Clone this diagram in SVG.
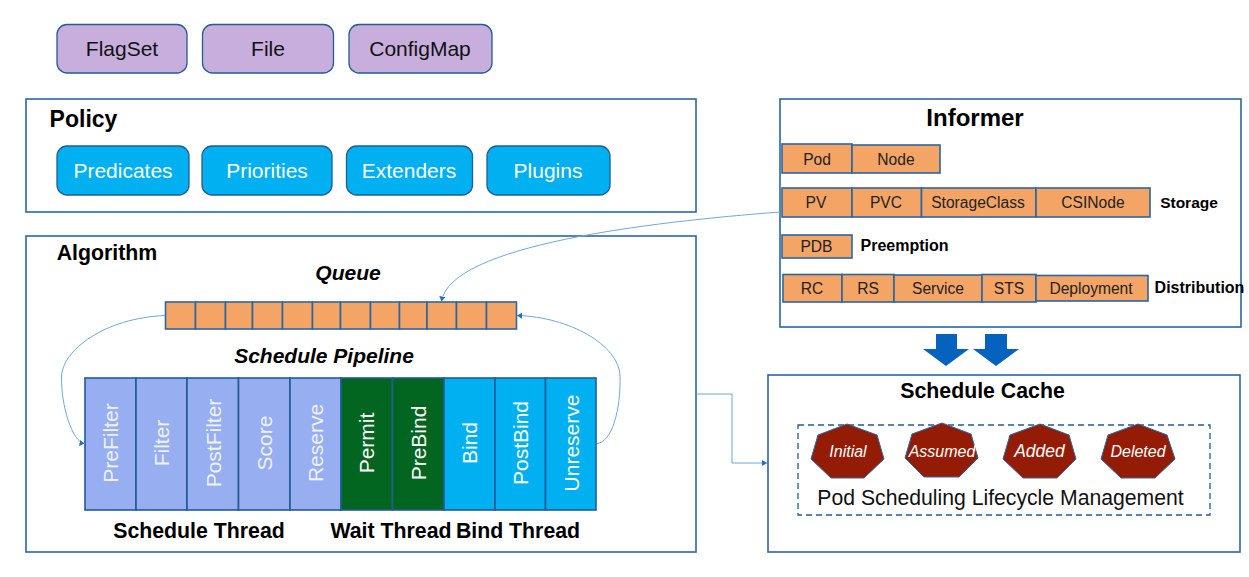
<svg xmlns="http://www.w3.org/2000/svg" width="1249" height="577" viewBox="0 0 1249 577">
<style>
text{font-family:"Liberation Sans",Arial,sans-serif;text-anchor:middle}
.panel{fill:#fff;stroke:#2a66a3;stroke-width:1.6}
.round{stroke:#1f5c99;stroke-width:1.3}
.purple{fill:#c8aedd}.cyan{fill:#00b0f0}
.cell{fill:#f4a566;stroke:#2a66a3;stroke-width:1.6}
.seg{stroke:#1f5c99;stroke-width:1.6}
.peri{fill:#97aef0}.green{fill:#036620}.sky{fill:#00b0f0}
.hept{fill:#951c04;stroke:#2a66a3;stroke-width:1}
.blk{fill:#0563bd}
.lbl{font-size:21px;fill:#111}
.wl{font-size:21px;fill:#fff}
.vt{font-size:21px;fill:#fff}
.vp{fill:#eef2fd}
.t20{font-size:21.300px;font-weight:bold;fill:#000}
.ti{font-size:21px;font-weight:bold;font-style:italic;fill:#000}
.cl{font-size:15.600px;fill:#222}
.sd{font-size:16px;font-weight:bold;fill:#000}
.hl{font-size:16px;font-style:italic;fill:#fff}
.conn{fill:none;stroke:#6ea8dc;stroke-width:1}
</style>
<defs>
<marker id="ah" markerUnits="userSpaceOnUse" markerWidth="6" markerHeight="6" refX="5" refY="3" orient="auto"><path d="M0 0L5 3L0 6z" fill="#1f6fc0"/></marker>
</defs>

<g id="flagset"><rect class="round purple" x="57" y="24.500" width="130" height="48.500" rx="10"/><text class="lbl" x="122" y="56">FlagSet</text></g>
<g id="file"><rect class="round purple" x="202.500" y="24.500" width="131" height="48.500" rx="10"/><text class="lbl" x="268" y="56">File</text></g>
<g id="configmap"><rect class="round purple" x="349" y="24.500" width="143" height="48.500" rx="10"/><text class="lbl" x="420" y="56">ConfigMap</text></g>

<g id="policy">
<rect class="panel" x="26" y="99" width="670" height="113"/>
<text x="83.500" y="127" style="font-size:23px;font-weight:bold">Policy</text>
<g id="predicates"><rect class="round cyan" x="57" y="146" width="132" height="49" rx="10"/><text class="wl" x="123" y="178">Predicates</text></g>
<g id="priorities"><rect class="round cyan" x="202" y="146" width="130" height="49" rx="10"/><text class="wl" x="267" y="178">Priorities</text></g>
<g id="extenders"><rect class="round cyan" x="346.500" y="146" width="126" height="49" rx="10"/><text class="wl" x="409" y="178">Extenders</text></g>
<g id="plugins"><rect class="round cyan" x="487" y="146" width="123" height="49" rx="10"/><text class="wl" x="548" y="178">Plugins</text></g>
</g>

<g id="algorithm">
<rect class="panel" x="26" y="236" width="670" height="316"/>
<text class="t20" x="107" y="260">Algorithm</text>
<text class="ti" x="348" y="280">Queue</text>
<text class="ti" x="324" y="363">Schedule Pipeline</text>
<text class="t20" x="199" y="538">Schedule Thread</text>
<text class="t20" x="391" y="538">Wait Thread</text>
<text class="t20" x="518" y="538">Bind Thread</text>
</g>

<g id="queue">
<rect class="cell" x="165.500" y="302" width="30" height="27"/>
<rect class="cell" x="195.500" y="302" width="30" height="27"/>
<rect class="cell" x="225.500" y="302" width="27" height="27"/>
<rect class="cell" x="252.500" y="302" width="30" height="27"/>
<rect class="cell" x="282.500" y="302" width="30" height="27"/>
<rect class="cell" x="312.500" y="302" width="28" height="27"/>
<rect class="cell" x="340.500" y="302" width="30" height="27"/>
<rect class="cell" x="370.500" y="302" width="29" height="27"/>
<rect class="cell" x="399.500" y="302" width="27.500" height="27"/>
<rect class="cell" x="427" y="302" width="29.500" height="27"/>
<rect class="cell" x="456.500" y="302" width="30" height="27"/>
<rect class="cell" x="486.500" y="302" width="30" height="27"/>
</g>

<g id="pipeline">
<g id="prefilter"><rect class="seg peri" x="85" y="378" width="51" height="132"/><text class="vt vp" transform="translate(118 443) rotate(-90)">PreFilter</text></g>
<g id="filter"><rect class="seg peri" x="136" y="378" width="51" height="132"/><text class="vt vp" transform="translate(169 443) rotate(-90)">Filter</text></g>
<g id="postfilter"><rect class="seg peri" x="187" y="378" width="51.500" height="132"/><text class="vt vp" transform="translate(220.500 443) rotate(-90)">PostFilter</text></g>
<g id="score"><rect class="seg peri" x="238.500" y="378" width="51.500" height="132"/><text class="vt vp" transform="translate(272 443) rotate(-90)">Score</text></g>
<g id="reserve"><rect class="seg peri" x="290" y="378" width="51" height="132"/><text class="vt vp" transform="translate(323 443) rotate(-90)">Reserve</text></g>
<g id="permit"><rect class="seg green" x="341" y="378" width="51.500" height="132"/><text class="vt" transform="translate(374 443) rotate(-90)">Permit</text></g>
<g id="prebind"><rect class="seg green" x="392.500" y="378" width="51.500" height="132"/><text class="vt" transform="translate(426 443) rotate(-90)">PreBind</text></g>
<g id="bind"><rect class="seg sky" x="444" y="378" width="51" height="132"/><text class="vt" transform="translate(477 443) rotate(-90)">Bind</text></g>
<g id="postbind"><rect class="seg sky" x="495" y="378" width="50.500" height="132"/><text class="vt" transform="translate(528 443) rotate(-90)">PostBind</text></g>
<g id="unreserve"><rect class="seg sky" x="545.500" y="378" width="50.500" height="132"/><text class="vt" transform="translate(579 443) rotate(-90)">Unreserve</text></g>
</g>

<g id="informer">
<rect class="panel" x="780" y="99" width="461" height="228"/>
<text x="975" y="126" style="font-size:24px;font-weight:bold">Informer</text>
<g id="pod"><rect class="cell" x="782" y="144" width="70" height="29"/><text class="cl" x="817" y="165">Pod</text></g>
<g id="node"><rect class="cell" x="852" y="145" width="88" height="28"/><text class="cl" x="896" y="165">Node</text></g>
<g id="pv"><rect class="cell" x="782" y="188" width="70" height="29"/><text class="cl" x="816" y="208">PV</text></g>
<g id="pvc"><rect class="cell" x="852" y="188" width="69.500" height="29"/><text class="cl" x="886" y="208">PVC</text></g>
<g id="storageclass"><rect class="cell" x="921.500" y="188" width="114.500" height="29"/><text class="cl" x="978" y="208">StorageClass</text></g>
<g id="csinode"><rect class="cell" x="1036" y="188" width="114" height="29"/><text class="cl" x="1093" y="208">CSINode</text></g>
<text class="sd" x="1189" y="208" style="font-size:15.500px">Storage</text>
<g id="pdb"><rect class="cell" x="782" y="235" width="70" height="23"/><text class="cl" x="816.500" y="252">PDB</text></g>
<text class="sd" x="904.500" y="251">Preemption</text>
<g id="rc"><rect class="cell" x="783" y="274.500" width="59" height="27.500"/><text class="cl" x="812" y="294">RC</text></g>
<g id="rs"><rect class="cell" x="842" y="274.500" width="52" height="27.500"/><text class="cl" x="868" y="294">RS</text></g>
<g id="service"><rect class="cell" x="894" y="275" width="88" height="27"/><text class="cl" x="938" y="294">Service</text></g>
<g id="sts"><rect class="cell" x="982" y="274.500" width="54" height="27.500"/><text class="cl" x="1009" y="294">STS</text></g>
<g id="deployment"><rect class="cell" x="1036" y="275.500" width="112" height="25.500"/><text class="cl" x="1091" y="294">Deployment</text></g>
<text class="sd" x="1199.500" y="293">Distribution</text>
</g>

<g id="arrow-left"><polygon class="blk" points="936,334 957,334 957,349 969,349 946,366 923,349 936,349"/></g>
<g id="arrow-right"><polygon class="blk" points="985,334 1007,334 1007,349 1019,349 996,366 973,349 985,349"/></g>

<g id="cache">
<rect class="panel" x="768" y="375" width="472" height="177"/>
<text class="t20" x="982.500" y="398">Schedule Cache</text>
<rect x="798" y="425" width="412" height="90" fill="none" stroke="#1f5c99" stroke-width="1.300" stroke-dasharray="6 4"/>
<g id="initial"><polygon class="hept" points="847,424 877,435 884,459 864,478 831,478 811,459 818,435"/><text class="hl" x="848" y="457">Initial</text></g>
<g id="assumed"><polygon class="hept" points="942,423 971,434 978,458 959,477 924,477 905,458 912,434"/><text class="hl" x="942" y="457">Assumed</text></g>
<g id="added"><polygon class="hept" points="1040,424 1069,435 1076,459 1057,478 1023,478 1003,459 1010,435"/><text class="hl" x="1039.500" y="457" style="font-size:17.500px">Added</text></g>
<g id="deleted"><polygon class="hept" points="1138,424 1167,435 1175,459 1155,478 1121,478 1101,459 1108,435"/><text class="hl" x="1138" y="457">Deleted</text></g>
<text x="1000.500" y="505" style="font-size:21.200px;fill:#111">Pod Scheduling Lifecycle Management</text>
</g>

<g id="connectors">
<path class="conn" marker-end="url(#ah)" d="M780 212C650 222 450 245 441.500 301.500"/>
<path class="conn" marker-end="url(#ah)" d="M165 315.500C105 318 62 350 61.500 377C61 405 72 442 84.500 443.500"/>
<path class="conn" marker-end="url(#ah)" d="M597 443.500C612 442 621 410 620 375C618 345 570 317 517 315.500"/>
<path class="conn" marker-end="url(#ah)" d="M696.500 394H732V463H767"/>
</g>
</svg>
